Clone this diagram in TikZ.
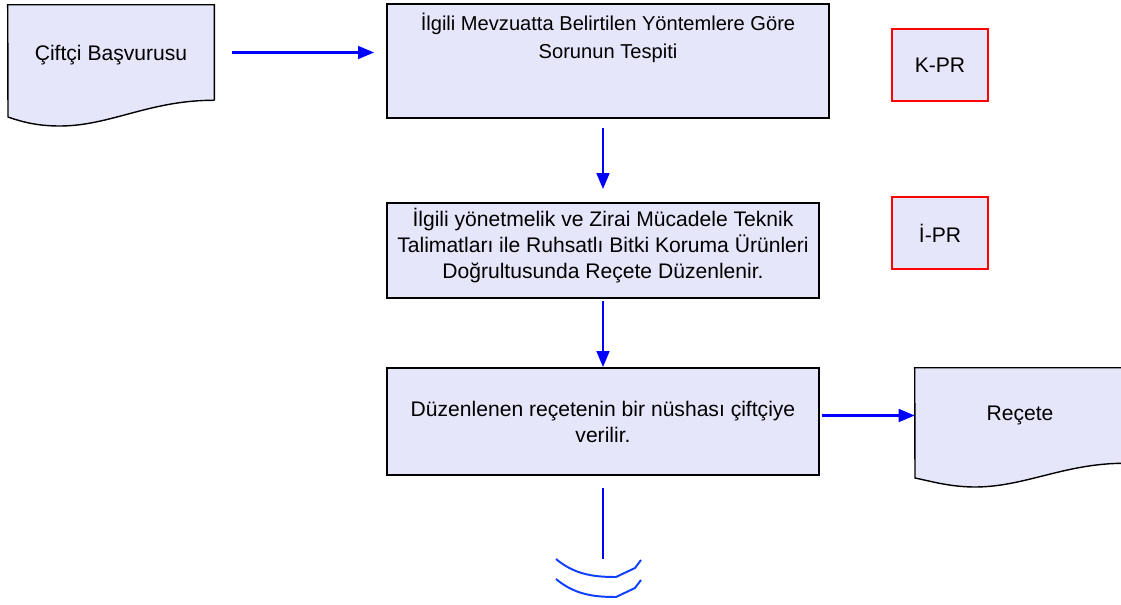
\documentclass[tikz,border=0pt]{standalone}
\usepackage{fontspec}
\setmainfont{Liberation Sans}
\usetikzlibrary{arrows.meta,backgrounds}
\definecolor{lavanta}{RGB}{230,230,250}
\definecolor{okmavi}{RGB}{0,0,255}
\definecolor{yaymavi}{RGB}{16,64,255}
\tikzset{
  kutu/.style={draw=black,line width=1.3pt,fill=lavanta,align=center,font=\fontsize{15}{18.5}\selectfont},
  prkutu/.style={draw=red,line width=1.2pt,fill=lavanta,minimum width=2.4cm,minimum height=1.8cm,font=\fontsize{15}{18}\selectfont},
  belge/.style={minimum height=2.375cm,font=\fontsize{15}{18}\selectfont},
  belgecizgi/.style={draw=black,line width=1pt,fill=lavanta},
  ok/.style={okmavi,line width=1.6pt,-{Triangle[length=0.4cm,width=0.32cm]}},
}

\begin{document}
\begin{tikzpicture}[x=0.025cm,y=-0.025cm]
      \useasboundingbox (0,0) rectangle (1121,605);
      % belgeler
      \node[belge,minimum width=5.15cm,text depth=-3pt] (basvuru) at (111,52.5) {Çiftçi Başvurusu};
      \node[belge,minimum width=5.25cm] (recete) at (1020,415.5) {Reçete};
      % kutular
      \node[kutu,minimum width=11.05cm,minimum height=2.85cm,
        label={[anchor=north,align=center,font=\fontsize{14.3}{20}\selectfont,yshift=-3.5pt]north:{İlgili Mevzuatta Belirtilen Yöntemlere Göre\\Sorunun Tespiti}}]
        (tespit) at (608,61) {};
      \node[kutu,minimum width=10.8cm,minimum height=2.375cm,text depth=10pt] (duzen) at (603,250.5)
        {İlgili yönetmelik ve Zirai Mücadele Teknik\\Talimatları ile Ruhsatlı Bitki Koruma Ürünleri\\Doğrultusunda Reçete Düzenlenir.};
      \node[kutu,minimum width=10.8cm,minimum height=2.675cm] (verilir) at (603,421.5)
        {Düzenlenen reçetenin bir nüshası çiftçiye\\verilir.};
      \node[prkutu] (kpr) at (940,65) {K-PR};
      \node[prkutu] (ipr) at (940,233) {İ-PR};
      \begin{scope}[on background layer]
        \draw[belgecizgi] (basvuru.south east) -- (basvuru.north east) -- (basvuru.north west)
          -- (8,117) .. controls (25,123) and (40,126) .. (60,126)
          .. controls (110,126) and (150,100) .. (basvuru.south east);
        \draw[belgecizgi] (recete.south east) .. controls (1065,463) and (1025,487) .. (975,487)
          .. controls (950,487) and (930,481) .. (915,478)
          -- (recete.north west) -- (recete.north east) -- cycle;
      \end{scope}
      % oklar
      \draw[ok,shorten <=0.45cm,shorten >=0.3cm] (basvuru.east) -- (basvuru.east -| tespit.west);
      \draw[ok,shorten <=0.225cm,shorten >=0.325cm] (duzen.north |- tespit.south) -- (duzen.north);
      \draw[ok,shorten <=0.05cm] (duzen.south) -- (verilir.north);
      \draw[ok,shorten <=0.05cm] (verilir.east |- recete.west) -- (recete.west);
      \coordinate (devam) at (603,559);
      \draw[okmavi,line width=1.4pt,shorten <=0.3cm] (verilir.south) -- (devam);
      \draw[yaymavi,line width=1.4pt] (556,559) .. controls (575,575) and (595,577) .. (616,577) -- (635,568) -- (641,560);
      \draw[yaymavi,line width=1.4pt] (556,579) .. controls (575,595) and (595,597) .. (616,597) -- (635,588) -- (641,580);
\end{tikzpicture}
\end{document}
